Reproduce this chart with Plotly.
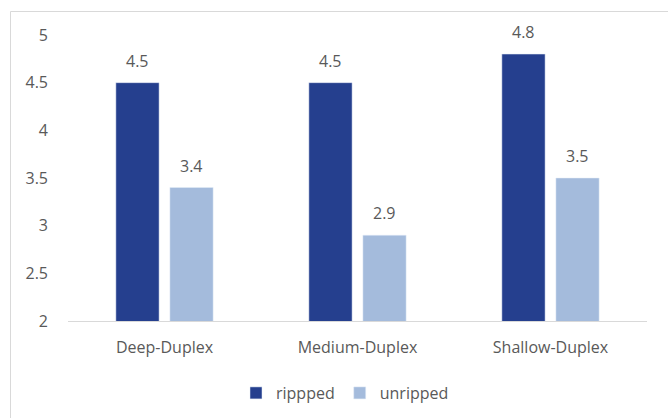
import plotly.graph_objects as go

categories = ["Deep-Duplex", "Medium-Duplex", "Shallow-Duplex"]
ripped = [4.5, 4.5, 4.8]
unripped = [3.4, 2.9, 3.5]
y_ticks = [2, 2.5, 3, 3.5, 4, 4.5, 5]

DARK = "#253F8E"
LIGHT = "#A4BBDC"
TEXT = "#595959"
FONT = "Open Sans"
FSIZE = 16

W, H = 668, 418
ml, mr, mt, mb = 68, 21, 35, 97
pw, ph = W - ml - mr, H - mt - mb
BARGAP, GROUPGAP = 0.44, 0.2

def px_x(p):
    return (p - ml) / pw

def px_y(p):
    return 1 - (p - mt) / ph

fig = go.Figure()
fig.add_trace(go.Bar(name="rippped", x=categories, y=ripped, marker=dict(color=DARK)))
fig.add_trace(go.Bar(name="unripped", x=categories, y=unripped, marker=dict(color=LIGHT)))

# value labels sit a little above each bar
slot = (1 - BARGAP) * (pw / len(categories)) / 2
annotations = []
for series, shift in ((ripped, -slot / 2), (unripped, slot / 2)):
    for cat, v in zip(categories, series):
        annotations.append(dict(
            x=cat, y=v, xref="x", yref="y", text=f"{v:g}", showarrow=False,
            xshift=shift, yshift=22, yanchor="middle",
            font=dict(size=FSIZE, color=TEXT, family=FONT),
        ))

fig.update_layout(
    width=W, height=H,
    margin=dict(l=ml, r=mr, t=mt, b=mb, pad=0, autoexpand=False),
    paper_bgcolor="white", plot_bgcolor="white",
    barmode="group", bargap=BARGAP, bargroupgap=GROUPGAP,
    font=dict(family=FONT, color=TEXT, size=FSIZE),
    showlegend=True,
    legend=dict(
        orientation="h", xref="container", yref="container",
        x=345 / W, y=1 - 393 / H,
        xanchor="center", yanchor="middle",
        font=dict(size=FSIZE, color=TEXT, family=FONT),
        itemwidth=30, tracegroupgap=0,
    ),
    xaxis=dict(
        showgrid=False, showline=True, linecolor="#D9D9D9", linewidth=1,
        ticks="", tickfont=dict(size=FSIZE, color=TEXT), ticklabelstandoff=12,
    ),
    yaxis=dict(
        range=[2, 5], tickvals=y_ticks, ticktext=[f"{v:g}" for v in y_ticks],
        showgrid=False, showline=False, zeroline=False, ticks="",
        tickfont=dict(size=FSIZE, color=TEXT), ticklabelstandoff=19,
    ),
    annotations=annotations,
    shapes=[dict(
        type="rect", xref="paper", yref="paper",
        x0=px_x(10.5), x1=px_x(700), y0=px_y(460), y1=px_y(11.5),
        line=dict(color="#D9D9D9", width=1), fillcolor="rgba(0,0,0,0)",
        layer="below",
    )],
)

fig.write_html("out.html")
